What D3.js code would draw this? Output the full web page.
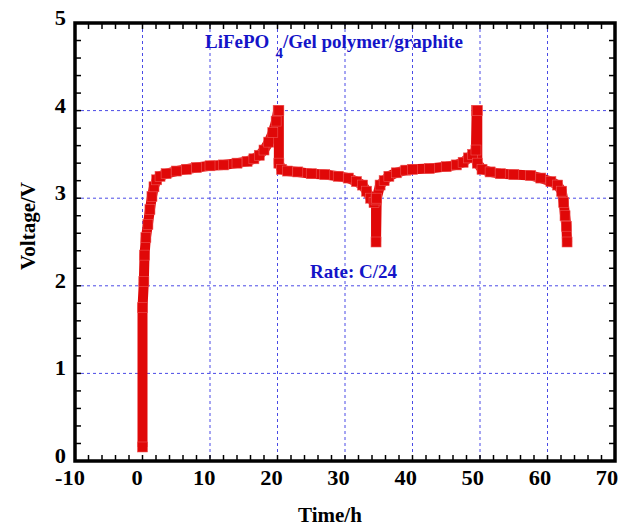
<!DOCTYPE html>
<meta charset="utf-8" />
<script src="https://d3js.org/d3.v7.min.js"></script>
<body style="margin: 0; background: #ffffff">
  <div id="chart"></div>
  <script>
    // time (h) and voltage (V)
    var time = [
      0.0, 0.0, 0.2, 0.3, 0.5, 0.8, 1.1, 1.4, 1.7, 2.1, 2.6, 3.5, 5, 6.5, 8,
      10, 12, 14, 15.5, 16.5, 17.3, 18, 18.7, 19.3, 19.8, 20.1, 20.2, 20.2,
      20.6, 21.5, 23, 25, 27, 29, 30.5, 31.7, 32.6, 33.2, 33.8, 34.3, 34.6,
      34.6, 34.7, 35.2, 35.8, 36.5, 37.6, 39, 40, 42.5, 45, 46.5, 47.5, 48.3,
      48.9, 49.4, 49.5, 49.6, 49.6, 50.3, 51.5, 53, 55, 57.5, 59, 60.5, 61.5,
      62.1, 62.4, 62.6, 62.8, 62.9
    ];
    var voltage = [
      0.16, 1.75, 2.05, 2.35, 2.55, 2.7, 2.87, 3.02, 3.13, 3.21, 3.25, 3.28,
      3.31, 3.33, 3.35, 3.37, 3.38, 3.4, 3.42, 3.45, 3.49, 3.55, 3.64, 3.75,
      3.88, 4.0, 4.0, 3.4, 3.33, 3.31, 3.3, 3.28, 3.27, 3.25, 3.23, 3.19, 3.15,
      3.08, 3.0, 2.95, 2.98, 2.5, 3.0, 3.15, 3.2, 3.25, 3.29, 3.32, 3.33, 3.34,
      3.36, 3.38, 3.41, 3.46, 3.5, 3.55, 4.0, 4.0, 3.4, 3.33, 3.3, 3.28, 3.27,
      3.26, 3.23, 3.19, 3.15, 3.08, 2.95, 2.8, 2.68, 2.5
    ];
    var xTicks = [-10, 0, 10, 20, 30, 40, 50, 60, 70];
    var yTicks = [0, 1, 2, 3, 4, 5];

    var width = 619,
      height = 529;
    var plotL = 75,
      plotR = 615,
      plotT = 23,
      plotB = 461;

    var svg = d3
      .select("#chart")
      .append("svg")
      .attr("width", width)
      .attr("height", height)
      .style("font-family", "'Liberation Serif', 'Times New Roman', serif")
      .style("font-weight", "bold");

    var x = d3.scaleLinear().domain([-10, 70]).range([plotL, plotR]);
    var y = d3.scaleLinear().domain([0, 5]).range([plotB, plotT]);

    // dotted blue grid
    var grid = svg.append("g").attr("stroke", "#4a4ae6").attr("stroke-width", 1)
      .attr("stroke-dasharray", "3,3");
    grid.selectAll(".gx")
      .data(xTicks.slice(1, -1))
      .enter()
      .append("line")
      .attr("x1", function (d) { return x(d); })
      .attr("x2", function (d) { return x(d); })
      .attr("y1", plotT)
      .attr("y2", plotB);
    grid.selectAll(".gy")
      .data(yTicks.slice(1, -1))
      .enter()
      .append("line")
      .attr("x1", plotL)
      .attr("x2", plotR)
      .attr("y1", function (d) { return y(d); })
      .attr("y2", function (d) { return y(d); });

    // inward ticks on all four sides
    var minorX = d3.range(-10, 70.1, 2),
      minorY = d3.range(0, 5.01, 0.2);
    var ticks = svg.append("g").attr("stroke", "#000").attr("stroke-width", 1.5);
    minorX.forEach(function (d) {
      ticks.append("line").attr("x1", x(d)).attr("x2", x(d)).attr("y1", plotB).attr("y2", plotB - 6);
      ticks.append("line").attr("x1", x(d)).attr("x2", x(d)).attr("y1", plotT).attr("y2", plotT + 6);
    });
    minorY.forEach(function (d) {
      ticks.append("line").attr("y1", y(d)).attr("y2", y(d)).attr("x1", plotL).attr("x2", plotL + 6);
      ticks.append("line").attr("y1", y(d)).attr("y2", y(d)).attr("x1", plotR).attr("x2", plotR - 6);
    });

    // data: thick line plus square markers
    var pts = time.map(function (t, i) { return [t, voltage[i]]; });
    var line = d3.line()
      .x(function (d) { return x(d[0]); })
      .y(function (d) { return y(d[1]); });
    svg.append("path")
      .datum(pts)
      .attr("d", line)
      .attr("fill", "none")
      .attr("stroke", "#e00808")
      .attr("stroke-width", 10)
      .attr("stroke-linejoin", "miter");
    svg.append("g")
      .selectAll("rect")
      .data(pts)
      .enter()
      .append("rect")
      .attr("x", function (d) { return x(d[0]) - 5; })
      .attr("y", function (d) { return y(d[1]) - 5; })
      .attr("width", 10)
      .attr("height", 10)
      .attr("fill", "#e00808")
      .attr("stroke", "#ee5555")
      .attr("stroke-width", 0.6);

    // frame
    svg.append("rect")
      .attr("x", plotL)
      .attr("y", plotT)
      .attr("width", plotR - plotL)
      .attr("height", plotB - plotT)
      .attr("fill", "none")
      .attr("stroke", "#000")
      .attr("stroke-width", 3.5);

    // tick labels
    svg.append("g")
      .selectAll("text")
      .data(xTicks)
      .enter()
      .append("text")
      .attr("transform", function (d) {
        return "translate(" + (x(d) - 5 - (d + 10) / 80 * 3) + ",485) scale(1.12,1)";
      })
      .attr("text-anchor", "middle")
      .style("font-size", "20px")
      .text(function (d) { return d; });
    svg.append("g")
      .selectAll("text")
      .data(yTicks)
      .enter()
      .append("text")
      .attr("transform", function (d) {
        return "translate(66," + (y(d) + 2) + ") scale(1.12,1)";
      })
      .attr("text-anchor", "end")
      .style("font-size", "20px")
      .text(function (d) { return d; });

    // axis titles
    svg.append("text")
      .attr("x", 330)
      .attr("y", 522)
      .attr("text-anchor", "middle")
      .style("font-size", "21px")
      .text("Time/h");
    svg.append("text")
      .attr("transform", "translate(35,226) rotate(-90)")
      .attr("text-anchor", "middle")
      .style("font-size", "21px")
      .text("Voltage/V");

    // annotations
    var title = svg.append("text")
      .attr("x", 205)
      .attr("y", 48)
      .attr("fill", "#1414c8")
      .style("font-size", "19px");
    title.append("tspan").text("LiFePO");
    title.append("tspan").attr("dx", 6).attr("dy", 10).style("font-size", "15px").text("4");
    title.append("tspan").attr("dy", -10).text("/Gel polymer/graphite");

    svg.append("text")
      .attr("x", 310)
      .attr("y", 278)
      .attr("fill", "#1414c8")
      .style("font-size", "19px")
      .text("Rate: C/24");
  </script>
</body>
